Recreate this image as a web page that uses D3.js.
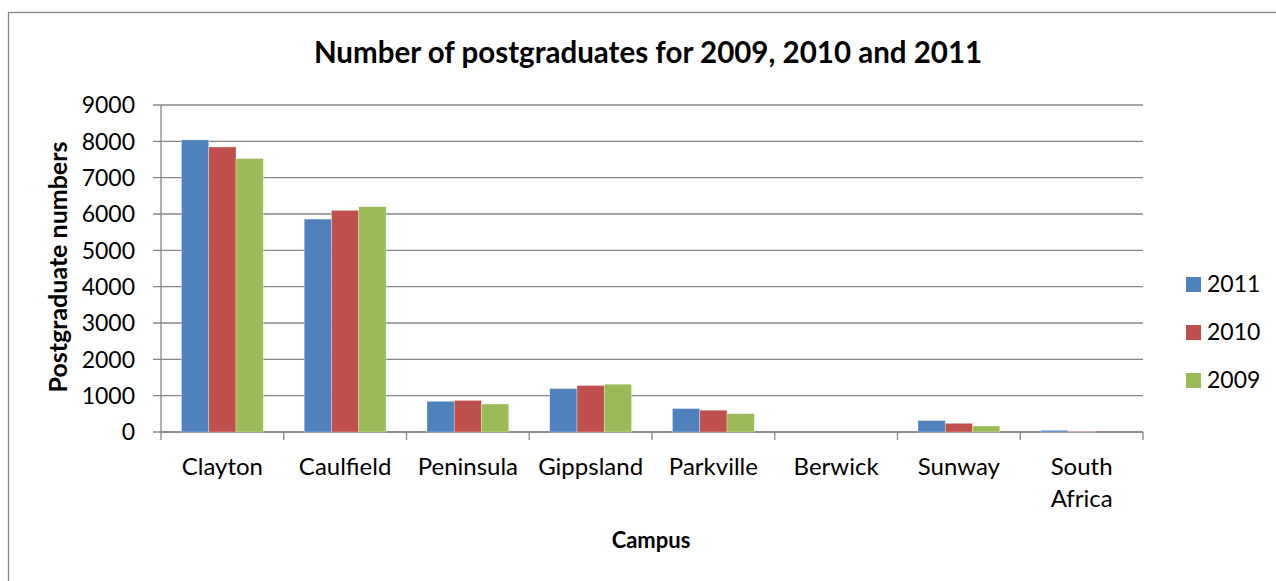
<!DOCTYPE html>
<html lang="en">
<head>
    <meta charset="UTF-8">
    <script src="https://d3js.org/d3.v7.min.js"></script>
    <title>Number of postgraduates</title>
    <style>
        body { margin: 0; background: #fff; }
        svg { display: block; font-family: Lato, "Open Sans", sans-serif; }
        .grid line { stroke: #868686; stroke-width: 1.3; }
    </style>
</head>
<body>
    <svg width="1276" height="581"></svg>
<script>
    // data
    const campuses = ["Clayton", "Caulfield", "Peninsula", "Gippsland", "Parkville", "Berwick", "Sunway", "South Africa"]
    const years = ["2011", "2010", "2009"]
    const v2011 = [8040, 5860, 845, 1195, 645, 0, 315, 45]
    const v2010 = [7845, 6100, 870, 1280, 600, 0, 240, 15]
    const v2009 = [7525, 6200, 770, 1315, 505, 0, 165, 0]
    const yTicks = [0, 1000, 2000, 3000, 4000, 5000, 6000, 7000, 8000, 9000]
    const colors = ["#4F81BD", "#C0504D", "#9BBB59"]

    const series = [v2011, v2010, v2009]
    const svg = d3.select("svg")

    // chart frame (runs off right and bottom)
    svg.append("rect")
        .attr("x", 8.5).attr("y", 12.5)
        .attr("width", 1300).attr("height", 600)
        .attr("fill", "none").attr("stroke", "#868686").attr("stroke-width", 1.3)

    const plot = { left: 161, right: 1143, top: 105, bottom: 432 }

    const x = d3.scaleBand()
        .domain(campuses)
        .range([plot.left, plot.right])
    const gap = x.bandwidth() * 0.75 / 4.5
    const xSub = d3.scaleBand()
        .domain(years)
        .range([gap, x.bandwidth() - gap])
    const y = d3.scaleLinear()
        .domain([0, 9000])
        .range([plot.bottom, plot.top])

    // gridlines + y ticks
    svg.append("g").attr("class", "grid")
        .selectAll("line")
        .data(yTicks)
        .enter()
        .append("line")
        .attr("x1", plot.left - 8)
        .attr("x2", plot.right)
        .attr("y1", d => y(d))
        .attr("y2", d => y(d))

    svg.append("g")
        .selectAll("text")
        .data(yTicks)
        .enter()
        .append("text")
        .attr("x", 135)
        .attr("y", d => y(d))
        .attr("dy", "0.36em")
        .attr("text-anchor", "end")
        .attr("font-size", 23)
        .attr("fill", "#000")
        .text(d => d)

    // axes lines
    svg.append("line")
        .attr("x1", plot.left).attr("x2", plot.left)
        .attr("y1", plot.top).attr("y2", plot.bottom + 8)
        .attr("stroke", "#868686").attr("stroke-width", 1.3)
    svg.append("line")
        .attr("x1", plot.left).attr("x2", plot.right)
        .attr("y1", plot.bottom).attr("y2", plot.bottom)
        .attr("stroke", "#868686").attr("stroke-width", 1.3)
    svg.append("g")
        .selectAll("line")
        .data(campuses)
        .enter()
        .append("line")
        .attr("x1", d => x(d) + x.bandwidth())
        .attr("x2", d => x(d) + x.bandwidth())
        .attr("y1", plot.bottom)
        .attr("y2", plot.bottom + 8)
        .attr("stroke", "#868686").attr("stroke-width", 1.3)

    // bars
    years.forEach((yr, i) => {
        svg.append("g")
            .selectAll("rect")
            .data(series[i])
            .enter()
            .append("rect")
            .attr("x", (d, j) => x(campuses[j]) + xSub(yr))
            .attr("y", d => y(d))
            .attr("width", xSub.bandwidth())
            .attr("height", d => y(0) - y(d))
            .attr("fill", colors[i])
            .attr("stroke", "rgba(255,255,255,0.5)")
            .attr("stroke-width", 0.6)
    })

    // category labels
    const catLabels = svg.append("g")
        .selectAll("text")
        .data(campuses)
        .enter()
        .append("text")
        .attr("x", d => x(d) + x.bandwidth() / 2)
        .attr("y", 475)
        .attr("text-anchor", "middle")
        .attr("font-size", 24)
        .attr("fill", "#000")
    catLabels.each(function (d) {
        const words = d.split(" ")
        const t = d3.select(this)
        if (words.length > 1) {
            t.attr("text-anchor", "start")
            words.forEach((w, k) => {
                t.append("tspan")
                    .attr("x", x(d) + x.bandwidth() / 2 - 31)
                    .attr("dy", k === 0 ? 0 : 32)
                    .text(w)
            })
        } else {
            t.text(d)
        }
    })

    // titles
    svg.append("text")
        .attr("x", 648).attr("y", 63)
        .attr("text-anchor", "middle")
        .attr("font-size", 29.5).attr("font-weight", "bold")
        .text("Number of postgraduates for 2009, 2010 and 2011")
    svg.append("text")
        .attr("transform", "translate(67,267) rotate(-90)")
        .attr("text-anchor", "middle")
        .attr("font-size", 25).attr("font-weight", "bold")
        .text("Postgraduate numbers")
    svg.append("text")
        .attr("x", 651).attr("y", 548)
        .attr("text-anchor", "middle")
        .attr("font-size", 22).attr("font-weight", "bold")
        .text("Campus")

    // legend
    const legend = svg.append("g")
        .selectAll("g")
        .data(years)
        .enter()
        .append("g")
        .attr("transform", (d, i) => `translate(1186,${277 + i * 48})`)
    legend.append("rect")
        .attr("width", 15).attr("height", 15)
        .attr("fill", (d, i) => colors[i])
    legend.append("text")
        .attr("x", 21).attr("y", 15)
        .attr("font-size", 23)
        .text(d => d)
</script>
</body>
</html>
